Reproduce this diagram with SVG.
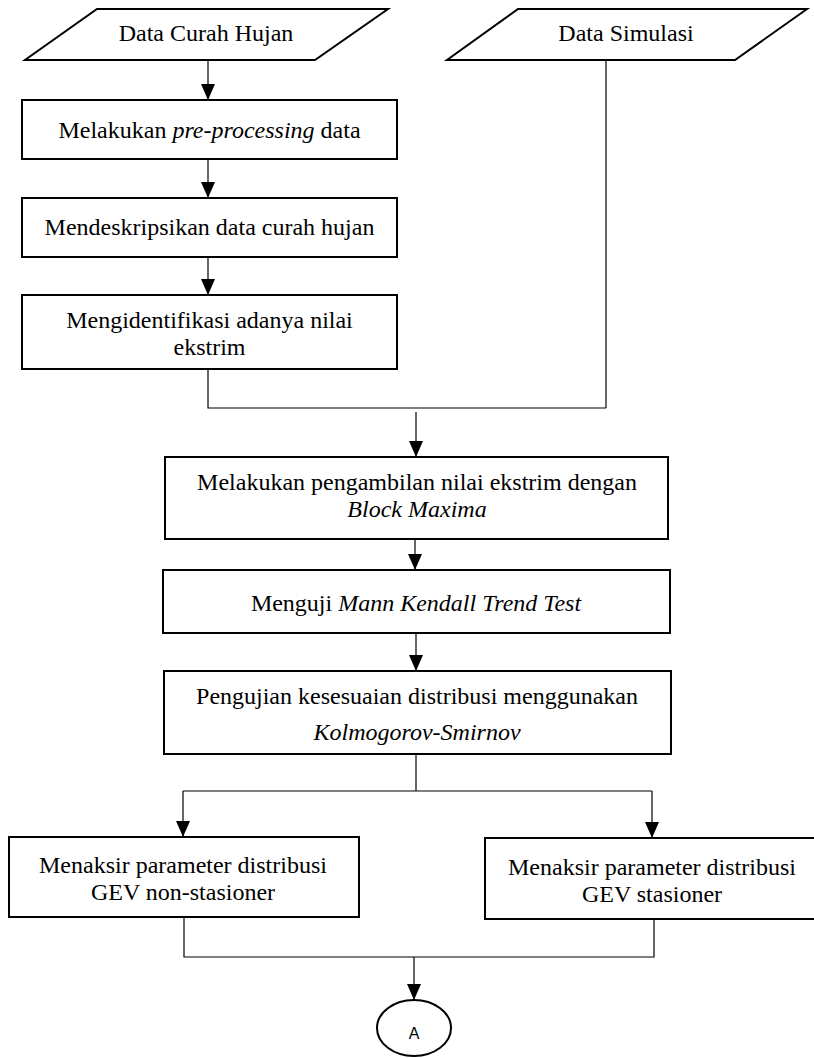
<svg xmlns="http://www.w3.org/2000/svg" width="814" height="1058" viewBox="0 0 814 1058">
<style>
.box{fill:#fff;stroke:#000;stroke-width:2}
.t{font-family:"Liberation Serif","Times New Roman",serif;font-size:24px;fill:#000;text-anchor:middle}
.i{font-style:italic}
.c{fill:none;stroke:#000;stroke-width:1.2}
</style>
<defs>
<marker id="ah" markerUnits="userSpaceOnUse" markerWidth="16" markerHeight="14" refX="16" refY="7" orient="auto" viewBox="0 0 16 14">
<path d="M0,0 L16,7 L0,14 Z" fill="#000"/>
</marker>
</defs>
<g id="connectors">
<line class="c" x1="208" y1="60" x2="208" y2="100" marker-end="url(#ah)"/>
<line class="c" x1="208" y1="159" x2="208" y2="198" marker-end="url(#ah)"/>
<line class="c" x1="208" y1="257" x2="208" y2="295" marker-end="url(#ah)"/>
<polyline class="c" points="208,369 208,408 606,408"/>
<line class="c" x1="606" y1="60" x2="606" y2="408"/>
<line class="c" x1="416" y1="412" x2="416" y2="457" marker-end="url(#ah)"/>
<line class="c" x1="415" y1="539" x2="415" y2="570" marker-end="url(#ah)"/>
<line class="c" x1="416" y1="633" x2="416" y2="671" marker-end="url(#ah)"/>
<line class="c" x1="416" y1="754" x2="416" y2="791"/>
<line class="c" x1="183" y1="791" x2="652" y2="791"/>
<line class="c" x1="183" y1="791" x2="183" y2="837" marker-end="url(#ah)"/>
<line class="c" x1="652" y1="791" x2="652" y2="838" marker-end="url(#ah)"/>
<polyline class="c" points="184,917 184,957 654,957 654,919"/>
<line class="c" x1="414" y1="957" x2="414" y2="1000" marker-end="url(#ah)"/>
</g>
<g id="data-curah-hujan">
<polygon class="box" points="97,9 388,9 315,60 25,60"/>
<text class="t" x="206" y="41">Data Curah Hujan</text>
</g>
<g id="data-simulasi">
<polygon class="box" points="518,9 807,9 735,60 447,60"/>
<text class="t" x="626" y="41">Data Simulasi</text>
</g>
<g id="preprocessing">
<rect class="box" x="22" y="100" width="375" height="59"/>
<text class="t" x="209.5" y="138">Melakukan <tspan class="i">pre-processing</tspan> data</text>
</g>
<g id="deskripsi">
<rect class="box" x="22" y="198" width="375" height="59"/>
<text class="t" x="209.5" y="235">Mendeskripsikan data curah hujan</text>
</g>
<g id="identifikasi">
<rect class="box" x="22" y="295" width="375" height="74"/>
<text class="t" x="209.5" y="328">Mengidentifikasi adanya nilai</text>
<text class="t" x="209.5" y="355">ekstrim</text>
</g>
<g id="block-maxima">
<rect class="box" x="165" y="457" width="503" height="82"/>
<text class="t" x="417" y="490">Melakukan pengambilan nilai ekstrim dengan</text>
<text class="t i" x="417" y="517">Block Maxima</text>
</g>
<g id="mann-kendall">
<rect class="box" x="163" y="570" width="507" height="63"/>
<text class="t" x="416" y="611">Menguji <tspan class="i">Mann Kendall Trend Test</tspan></text>
</g>
<g id="ks">
<rect class="box" x="164" y="671" width="507" height="83"/>
<text class="t" x="417" y="704">Pengujian kesesuaian distribusi menggunakan</text>
<text class="t i" x="417" y="740">Kolmogorov-Smirnov</text>
</g>
<g id="gev-non">
<rect class="box" x="9" y="837" width="350" height="80"/>
<text class="t" x="183" y="873">Menaksir parameter distribusi</text>
<text class="t" x="183" y="900">GEV non-stasioner</text>
</g>
<g id="gev-stas">
<rect class="box" x="485" y="838" width="332" height="81"/>
<text class="t" x="652" y="875">Menaksir parameter distribusi</text>
<text class="t" x="652" y="902">GEV stasioner</text>
</g>
<g id="connector-a">
<ellipse class="box" cx="414" cy="1028" rx="37" ry="28"/>
<text x="414" y="1039" style="font-family:'Liberation Sans',Arial,sans-serif;font-size:16px;text-anchor:middle">A</text>
</g>
</svg>
